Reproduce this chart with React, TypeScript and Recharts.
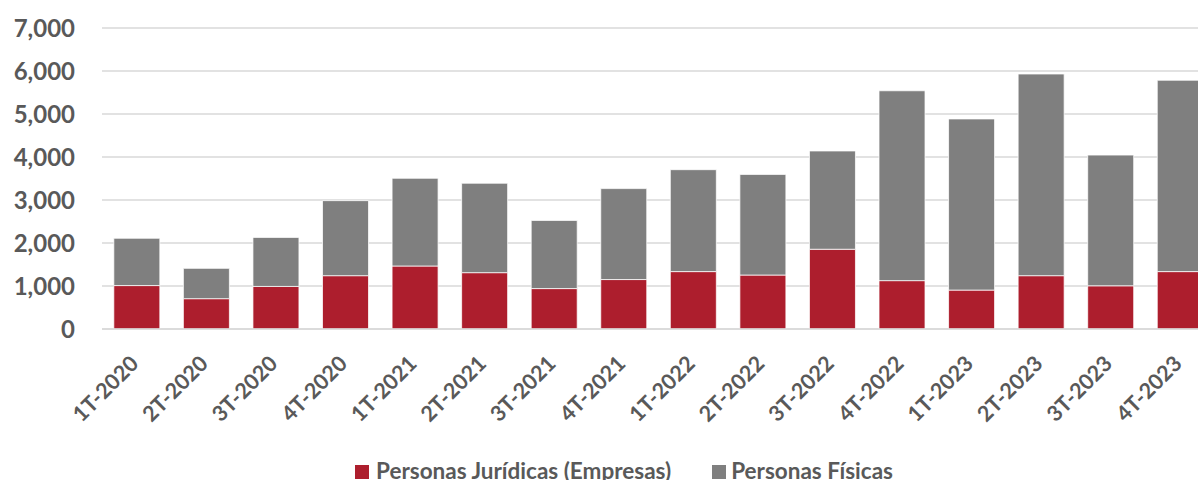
import React from 'react';
import { BarChart, Bar, XAxis, YAxis, CartesianGrid } from 'recharts';

const categories = [
  '1T-2020', '2T-2020', '3T-2020', '4T-2020',
  '1T-2021', '2T-2021', '3T-2021', '4T-2021',
  '1T-2022', '2T-2022', '3T-2022', '4T-2022',
  '1T-2023', '2T-2023', '3T-2023', '4T-2023',
];
const juridicas = [1010, 705, 990, 1240, 1465, 1310, 940, 1150, 1335, 1255, 1855, 1125, 905, 1240, 1005, 1335];
const fisicas = [1100, 705, 1140, 1745, 2040, 2080, 1585, 2115, 2370, 2340, 2285, 4415, 3980, 4690, 3040, 4450];
const yTicks = [0, 1000, 2000, 3000, 4000, 5000, 6000, 7000];

const seriesNames = ['Personas Jurídicas (Empresas)', 'Personas Físicas'];
const RED = '#AD1E2D';
const GRAY = '#7F7F7F';
const TEXT = '#595959';
const FONT = 'Lato, "Open Sans", sans-serif';

const data = categories.map((c, i) => ({ name: c, juridicas: juridicas[i], fisicas: fisicas[i] }));

const XTick = (props: any) => {
  const { x, y, payload } = props;
  return (
    <g transform={`translate(${x},${y})`}>
      <text
        transform="translate(3,36) rotate(-45)"
        textAnchor="end"
        fill={TEXT}
        fontFamily={FONT}
        fontWeight={700}
        fontSize={21.5}
      >
        {payload.value}
      </text>
    </g>
  );
};

export default function App() {
  return (
    <div style={{ position: 'absolute', left: 0, top: 0, width: 1198, height: 480, overflow: 'hidden', background: '#fff' }}>
      <BarChart
        width={1220}
        height={480}
        data={data}
        margin={{ top: 28, right: 5, left: 0, bottom: 0 }}
        barCategoryGap="17%"
      >
        <CartesianGrid vertical={false} stroke="#D9D9D9" strokeWidth={1.5} />
        <XAxis
          dataKey="name"
          height={151}
          interval={0}
          tickLine={false}
          axisLine={{ stroke: '#D9D9D9', strokeWidth: 1.5 }}
          tickSize={0}
          tickMargin={0}
          tick={<XTick />}
        />
        <YAxis
          width={102}
          domain={[0, 7000]}
          ticks={yTicks}
          interval={0}
          axisLine={false}
          tickLine={false}
          tickSize={0}
          tickMargin={27}
          tickFormatter={(v: number) => v.toLocaleString('en-US')}
          tick={{ fill: TEXT, fontFamily: FONT, fontWeight: 700, fontSize: 24 }}
        />
        <Bar dataKey="juridicas" name={seriesNames[0]} stackId="a" fill={RED} stroke="#ffffff" strokeWidth={0.75} isAnimationActive={false} />
        <Bar dataKey="fisicas" name={seriesNames[1]} stackId="a" fill={GRAY} stroke="#ffffff" strokeWidth={0.75} isAnimationActive={false} />
      </BarChart>
      <div
        style={{
          position: 'absolute',
          left: 355,
          top: 457,
          display: 'flex',
          alignItems: 'center',
          fontFamily: FONT,
          fontWeight: 700,
          fontSize: 22.5,
          color: TEXT,
          whiteSpace: 'nowrap',
          lineHeight: '27px',
        }}
      >
        <span style={{ display: 'inline-block', width: 14, height: 14, background: RED, marginRight: 7, marginTop: 3 }} />
        <span>{seriesNames[0]}</span>
        <span style={{ display: 'inline-block', width: 14, height: 14, background: GRAY, marginLeft: 41, marginRight: 5, marginTop: 3 }} />
        <span>{seriesNames[1]}</span>
      </div>
    </div>
  );
}
